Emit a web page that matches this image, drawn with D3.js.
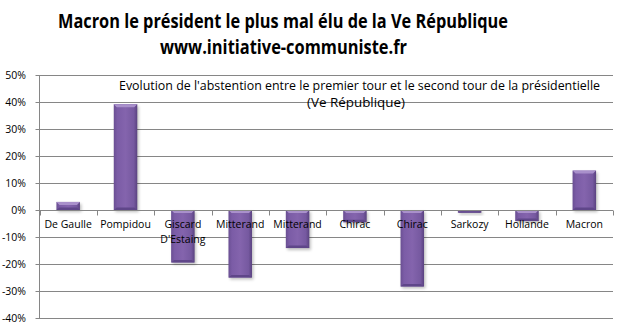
<!DOCTYPE html>
<html><head><meta charset="utf-8">
<script src="https://cdn.jsdelivr.net/npm/d3@7"></script>
<style>body{margin:0;background:#fff}svg{display:block}</style>
</head><body>
<svg id="c" width="617" height="336"></svg>
<script>
const categories = ["De Gaulle","Pompidou","Giscard D'Estaing","Mitterand","Mitterand","Chirac","Chirac","Sarkozy","Hollande","Macron"];
const values = [3.0, 39.2, -19.4, -25.0, -14.1, -4.5, -28.3, -1.0, -4.1, 14.6];
const yTicks = [50,40,30,20,10,0,-10,-20,-30,-40];
const title1 = "Macron le président le plus mal élu de la Ve République";
const title2 = "www.initiative-communiste.fr";
const note1 = "Evolution de l'abstention entre le premier tour et le second tour de la présidentielle";
const note2 = "(Ve République)";

const svg = d3.select("#c");
const L = 39.5, R = 613, T = 75, B = 318;
const x = d3.scaleBand().domain(d3.range(categories.length)).range([L, R]).paddingInner(0).paddingOuter(0);
const y = d3.scaleLinear().domain([-40, 50]).range([B, T]);
const font = "Open Sans, Liberation Sans, sans-serif";

const defs = svg.append("defs");
const g1 = defs.append("linearGradient").attr("id","bar").attr("x1",0).attr("x2",1).attr("y1",0).attr("y2",0);
g1.append("stop").attr("offset",0).attr("stop-color","#6a4f93");
g1.append("stop").attr("offset",0.15).attr("stop-color","#7b5ca6");
g1.append("stop").attr("offset",0.5).attr("stop-color","#8464ad");
g1.append("stop").attr("offset",0.85).attr("stop-color","#7659a0");
g1.append("stop").attr("offset",1).attr("stop-color","#5a4280");
const f = defs.append("filter").attr("id","sh").attr("x","-30%").attr("y","-30%").attr("width","160%").attr("height","160%");
f.append("feGaussianBlur").attr("stdDeviation",1.5);

// gridlines
svg.append("g").selectAll("line").data(yTicks).join("line")
  .attr("x1", L-4).attr("x2", R).attr("y1", d=>Math.round(y(d))+0.5).attr("y2", d=>Math.round(y(d))+0.5)
  .attr("stroke","#868686").attr("stroke-width",1);
// y axis line
svg.append("line").attr("x1",L).attr("x2",L).attr("y1",T).attr("y2",B).attr("stroke","#868686");
// y labels
svg.append("g").selectAll("text").data(yTicks).join("text")
  .attr("x", 26).attr("y", d=>y(d)+4).attr("text-anchor","end")
  .attr("font-family",font).attr("font-size",10.5).attr("fill","#000")
  .text(d=>d+"%");

const bw = 23.5;
const bars = svg.append("g").selectAll("g").data(values).join("g");
// shadow
bars.append("rect")
  .attr("x",(d,i)=>x(i)+x.bandwidth()/2-bw/2+1.5)
  .attr("y",d=>Math.min(y(d),y(0))+2)
  .attr("width",bw).attr("height",d=>Math.abs(y(d)-y(0)))
  .attr("fill","#000").attr("opacity",0.25).attr("filter","url(#sh)");
bars.append("rect")
  .attr("x",(d,i)=>x(i)+x.bandwidth()/2-bw/2)
  .attr("y",d=>Math.min(y(d),y(0)))
  .attr("width",bw).attr("height",d=>Math.abs(y(d)-y(0)))
  .attr("fill","url(#bar)");
// top bevel highlight
bars.append("path")
  .attr("d",(d,i)=>{
    const x0 = x(i)+x.bandwidth()/2-bw/2, x1 = x0+bw;
    const yt = Math.min(y(d),y(0)), h = Math.min(3, Math.abs(y(d)-y(0))/2);
    return `M${x0},${yt}L${x1},${yt}L${x1-3},${yt+h}L${x0+3},${yt+h}Z`;
  }).attr("fill","#a990cb");
// bottom bevel dark
bars.append("path")
  .attr("d",(d,i)=>{
    const x0 = x(i)+x.bandwidth()/2-bw/2, x1 = x0+bw;
    const yb = Math.max(y(d),y(0)), h = Math.min(2.5, Math.abs(y(d)-y(0))/2);
    return `M${x0},${yb}L${x1},${yb}L${x1-3},${yb-h}L${x0+3},${yb-h}Z`;
  }).attr("fill","#5f4689");

// x axis
svg.append("line").attr("x1",L).attr("x2",R).attr("y1",Math.round(y(0))+0.5).attr("y2",Math.round(y(0))+0.5).attr("stroke","#868686");
svg.append("g").selectAll("line").data(d3.range(categories.length+1)).join("line")
  .attr("x1",i=>Math.round(L + i*x.step())+0.5).attr("x2",i=>Math.round(L + i*x.step())+0.5)
  .attr("y1",Math.round(y(0))+0.5).attr("y2",Math.round(y(0))+5.5).attr("stroke","#868686");

// category labels
const lab = svg.append("g").selectAll("text").data(categories).join("text")
  .attr("x",(d,i)=>x(i)+x.bandwidth()/2).attr("y",y(0)+18)
  .attr("text-anchor","middle").attr("font-family",font).attr("font-size",10.5).attr("fill","#000");
lab.each(function(d){
  const t = d3.select(this);
  if (d === "Giscard D'Estaing") {
    t.append("tspan").attr("x",t.attr("x")).attr("dy",0).text("Giscard");
    t.append("tspan").attr("x",t.attr("x")).attr("dy",15).text("D'Estaing");
  } else t.text(d);
});

// titles
function fitText(txt, cx, yy, w, size, weight) {
  svg.append("text").attr("x",cx - w/2).attr("y",yy)
    .attr("font-family",font).attr("font-weight",weight).attr("font-size",size).attr("fill","#000")
    .attr("textLength",w).attr("lengthAdjust","spacingAndGlyphs").text(txt);
}
fitText(title1, 283, 28, 450, 19, "bold");
fitText(title2, 283.5, 54, 247, 19, "bold");
fitText(note1, 359.5, 90, 481, 12, "normal");
fitText(note2, 356, 107, 98, 12, "normal");
</script>
</body></html>
